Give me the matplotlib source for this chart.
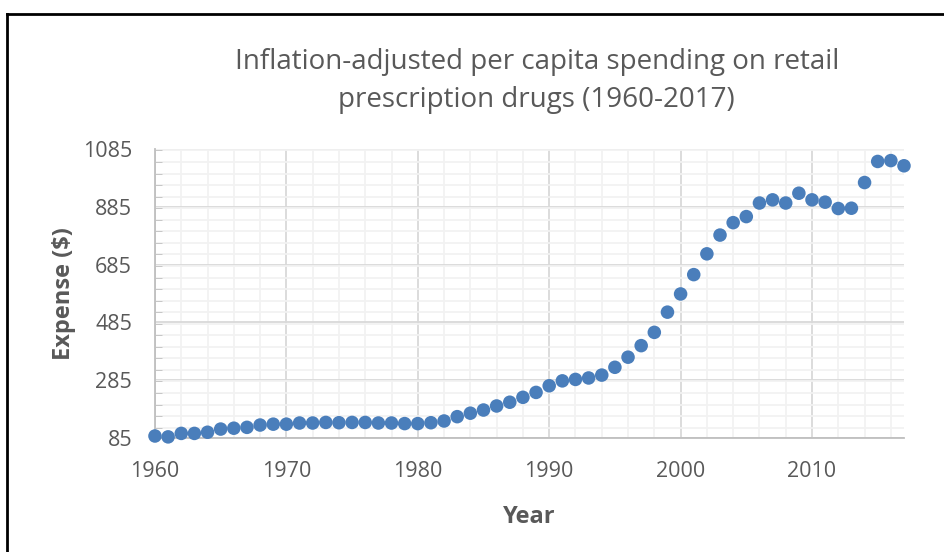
import matplotlib.pyplot as plt
from matplotlib.lines import Line2D
from matplotlib.ticker import MultipleLocator

plt.rcParams['font.family'] = ['Open Sans', 'DejaVu Sans']

years = list(range(1960, 2018))
spending = [
    91, 88, 100, 100, 104, 115, 118, 121, 129, 132,
    132, 136, 136, 138, 137, 138, 138, 136, 136, 134,
    134, 137, 143, 158, 170, 181, 195, 208, 225, 242,
    265, 282, 287, 292, 302, 329, 364, 404, 450, 520,
    583, 650, 722, 787, 830, 851, 898, 909, 898, 932,
    909, 901, 879, 880, 969, 1042, 1045, 1027,
]
y_ticks = [85, 285, 485, 685, 885, 1085]
x_ticks = [1960, 1970, 1980, 1990, 2000, 2010]

text_color = '#595959'

fig = plt.figure(figsize=(9.45, 5.52), dpi=100)
ax = fig.add_axes([0.164, 0.207, 0.7926, 0.523])

ax.scatter(years, spending, s=95, color='#4A7EBB', edgecolors='none', zorder=3,
           clip_on=False)

ax.set_xlim(1960, 2017)
ax.set_ylim(85, 1085)
ax.set_xticks(x_ticks)
ax.set_yticks(y_ticks)
ax.xaxis.set_minor_locator(MultipleLocator(2))
ax.yaxis.set_minor_locator(MultipleLocator(40))

ax.grid(which='major', color='#D9D9D9', linewidth=1.3)
ax.grid(which='minor', color='#F2F2F2', linewidth=1.3)
ax.set_axisbelow(True)

for side in ['top', 'right']:
    ax.spines[side].set_visible(False)
for side in ['left', 'bottom']:
    ax.spines[side].set_color('#BFBFBF')
    ax.spines[side].set_linewidth(1.3)

ax.tick_params(which='both', length=0, labelsize=15.5, labelcolor=text_color)
ax.tick_params(axis='y', pad=16.5)
ax.tick_params(axis='x', pad=17)
ax.tick_params(axis='y', which='minor', direction='in', length=5, color='#BFBFBF')

ax.set_xlabel('Year', fontsize=17, fontweight='bold', color=text_color, labelpad=16)
ax.set_ylabel('Expense ($)', fontsize=17, fontweight='bold', color=text_color, labelpad=5)

fig.text(0.568, 0.853, 'Inflation-adjusted per capita spending on retail\nprescription drugs (1960-2017)',
         ha='center', va='center', fontsize=20, color=text_color, linespacing=1.5)

# frame around the chart area
fig.add_artist(Line2D([7.5 / 945, 7.5 / 945], [0, 1 - 13.5 / 552], color='black', linewidth=2))
fig.add_artist(Line2D([7.5 / 945, 1], [1 - 13.5 / 552, 1 - 13.5 / 552], color='black', linewidth=2))

fig.savefig('out.png', dpi=100)
